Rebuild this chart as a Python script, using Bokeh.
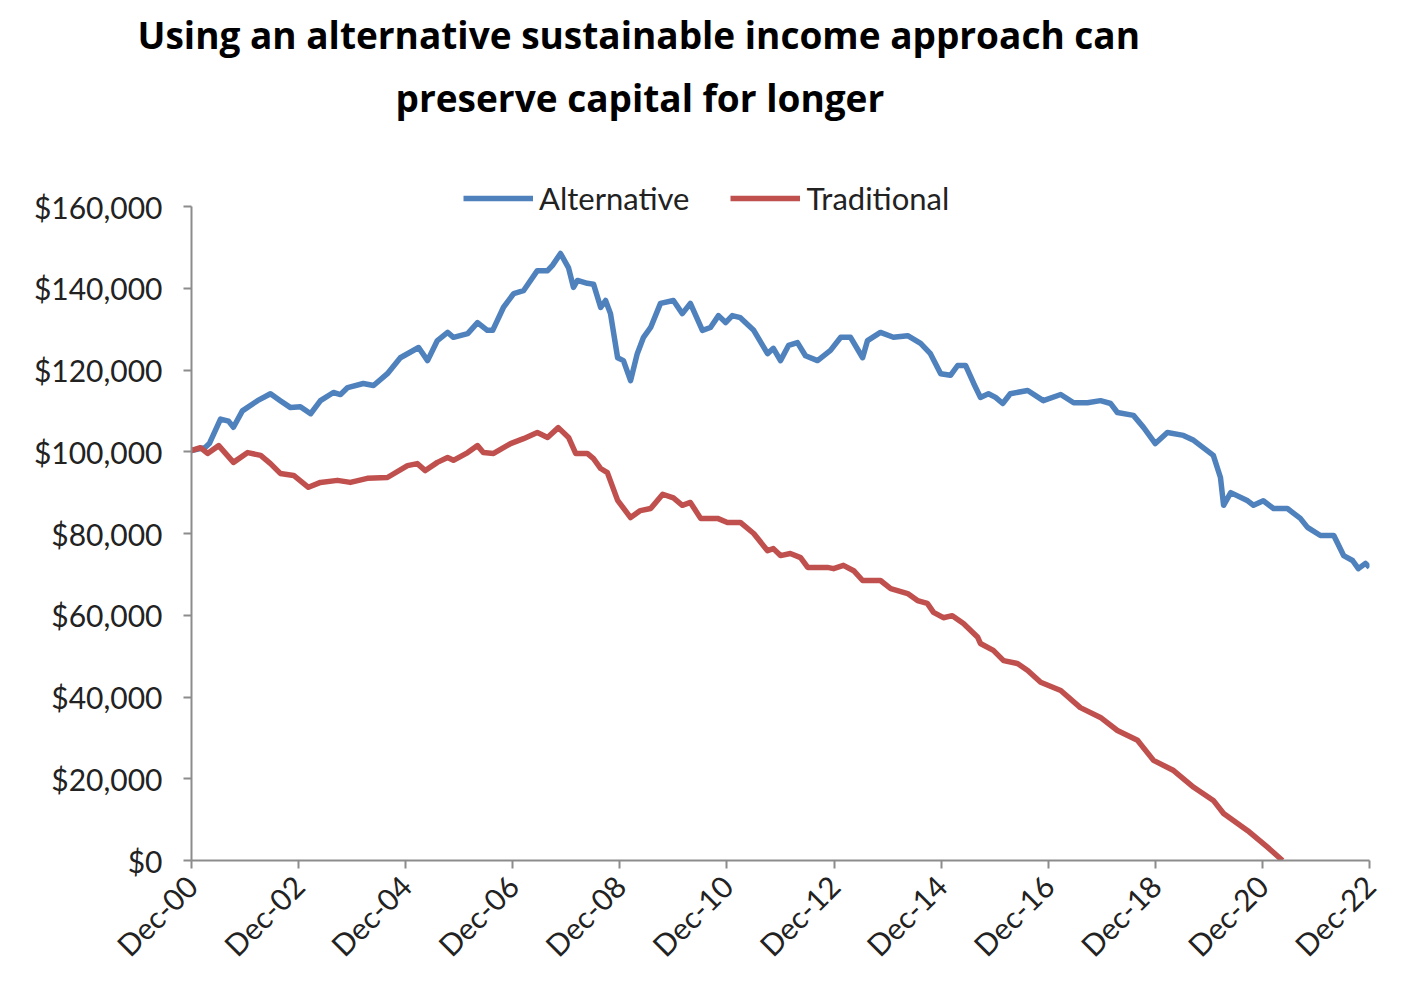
from bokeh.plotting import figure
from bokeh.models import (Range1d, FixedTicker, NumeralTickFormatter, ColumnDataSource,
                          Legend, LegendItem, Title)
from bokeh.embed import file_html
from bokeh.resources import INLINE
import math

title_line1 = "Using an alternative sustainable income approach can"
title_line2 = "preserve capital for longer"

# x: months since Dec-2000 ; values in $ thousands
alt_months = [0, 3, 4, 6.5, 8.3, 9.4, 11.4, 14.8, 17.7, 19.9, 22.2, 24.4, 26.7, 28.9, 31.8, 33.4, 35,
              38.5, 40.8, 43.9, 46.8, 50.9, 52.9, 55.1, 57.4, 58.7, 61.9, 64.1, 66.3, 67.5, 69.9, 72.2,
              74.4, 77.5, 79.8, 80.9, 82.7, 84.5, 85.6, 86.5, 88.7, 90.1, 91.7, 92.8, 93.9, 95.5, 96.8,
              98.4, 99.9, 101.3, 102.9, 105.1, 108, 110, 111.8, 114.5, 116.3, 118.1, 119.7, 121.2, 123,
              126, 129.1, 130.4, 132, 133.8, 135.8, 137.6, 140.3, 143.2, 145.5, 147.7, 150.4, 151.5,
              154.4, 157.3, 160.5, 163.4, 165.6, 167.9, 170.1, 171.7, 173.5, 175.3, 176.8, 178.6, 180.2,
              181.8, 183.5, 187.4, 190.9, 194.8, 197.7, 200.8, 203.7, 206, 207.5, 211.1, 213.4, 216,
              218.7, 222.3, 224.6, 229, 230.6, 231.3, 232.9, 236.7, 238, 240.2, 242.5, 245.6, 248.5,
              250.1, 253, 256, 258.2, 260.2, 261.5, 263.1, 264]
alt_values = [100.3, 101, 102, 108, 107.5, 106, 110, 112.5, 114.2, 112.5, 110.8, 111, 109.3, 112.5, 114.5,
              114, 115.7, 116.7, 116.2, 119.1, 123, 125.5, 122.3, 127.2, 129.2, 128, 128.9, 131.6, 129.7,
              129.7, 135.3, 138.7, 139.4, 144.3, 144.3, 145.6, 148.5, 145, 140.2, 141.9, 141.2, 141,
              135.3, 137, 133.8, 123, 122.3, 117.4, 124, 128, 130.4, 136.3, 137, 133.8, 136.3, 129.7,
              130.4, 133.3, 131.6, 133.3, 132.8, 129.7, 124, 125.3, 122.3, 126, 126.7, 123.5, 122.3,
              124.8, 128, 128, 123, 127.2, 129.2, 128, 128.4, 126.5, 124, 119.1, 118.7, 121.1, 121.1,
              116.7, 113.3, 114.2, 113.3, 111.8, 114.2, 115, 112.5, 114, 112, 112, 112.5, 111.8, 109.6,
              108.9, 105.9, 102, 104.7, 104, 102.8, 99.1, 93.7, 86.9, 90, 88, 86.9, 88, 86.1, 86.1,
              83.7, 81.5, 79.5, 79.5, 74.6, 73.4, 71.4, 72.7, 71.7]

trad_months = [0, 2, 3.6, 6.1, 9.4, 12.6, 15.5, 17.7, 19.9, 22.9, 26.2, 28.9, 32.7, 35.6, 39.4, 43.9,
               48.4, 50.6, 52.4, 55.1, 57.4, 58.7, 61.9, 64.1, 65.4, 67.7, 71.5, 74.4, 77.5, 79.8, 82.2,
               84.5, 86.1, 88.7, 90.1, 91.7, 93.2, 95.5, 98.4, 100.6, 102.9, 105.6, 108, 110, 111.8,
               114.1, 117.9, 120.1, 123, 126, 129.1, 130.4, 132, 134.2, 136.5, 138.1, 142.5, 143.9,
               146.1, 148.4, 150.4, 154.4, 156.7, 160.5, 162.7, 164.9, 166.3, 168.5, 170.5, 173, 176.2,
               176.8, 179.7, 182, 185.1, 187.4, 190.3, 194.8, 199.2, 203.7, 207.5, 212, 215.6, 220.1,
               224.6, 229, 231.3, 236.7, 241.2, 244.5]
trad_values = [100.3, 101, 99.6, 101.5, 97.4, 99.8, 99.1, 97.1, 94.7, 94.2, 91.3, 92.5, 93, 92.5, 93.5,
               93.7, 96.6, 97.1, 95.4, 97.4, 98.6, 97.9, 99.8, 101.5, 99.8, 99.6, 102, 103.2, 104.7,
               103.5, 105.9, 103.5, 99.6, 99.6, 98.3, 95.9, 94.9, 88.1, 83.9, 85.6, 86.1, 89.6, 88.7,
               86.9, 87.6, 83.7, 83.7, 82.7, 82.7, 80, 75.8, 76.3, 74.6, 75.1, 74.1, 71.7, 71.7, 71.4,
               72.2, 70.9, 68.5, 68.5, 66.5, 65.3, 63.6, 62.9, 60.7, 59.4, 59.9, 58, 54.6, 53.1, 51.4,
               48.9, 48.2, 46.5, 43.6, 41.6, 37.4, 35, 31.8, 29.4, 24.5, 22, 17.9, 14.7, 11.5, 7.3,
               3.2, 0]

tick_months = [0, 24, 48, 72, 96, 120, 144, 168, 192, 216, 240, 264]
tick_labels = ["Dec-00", "Dec-02", "Dec-04", "Dec-06", "Dec-08", "Dec-10",
               "Dec-12", "Dec-14", "Dec-16", "Dec-18", "Dec-20", "Dec-22"]
y_ticks = [0, 20000, 40000, 60000, 80000, 100000, 120000, 140000, 160000]

series_names = ["Alternative", "Traditional"]
series_colors = ["#4F81BD", "#C0504D"]

# frame: 160,000 drawn 654 px tall; extra headroom above so the legend fits in the frame
frame_top_border = 180
frame_h = 860 - frame_top_border
y_end = 160000 * frame_h / 654.0

p = figure(width=1400, height=990, output_backend="svg", toolbar_location=None,
           x_range=Range1d(0, 264), y_range=Range1d(0, y_end),
           min_border_left=191, min_border_right=31, min_border_top=frame_top_border,
           min_border_bottom=130)
p.outline_line_color = None
p.xgrid.grid_line_color = None
p.ygrid.grid_line_color = None
p.background_fill_color = "white"
p.border_fill_color = "white"

src_a = ColumnDataSource(dict(x=alt_months, y=[v * 1000 for v in alt_values]))
src_t = ColumnDataSource(dict(x=trad_months, y=[v * 1000 for v in trad_values]))
ra = p.line("x", "y", source=src_a, line_color=series_colors[0], line_width=5.5, line_join="round")
rt = p.line("x", "y", source=src_t, line_color=series_colors[1], line_width=5.5, line_join="round")

for ax in (p.xaxis[0], p.yaxis[0]):
    ax.axis_line_color = "#8C8C8C"
    ax.axis_line_width = 2
    ax.major_tick_line_color = "#8C8C8C"
    ax.major_tick_line_width = 2
    ax.major_tick_in = 0
    ax.major_tick_out = 8
    ax.minor_tick_line_color = None
    ax.major_label_text_font = "Lato"
    ax.major_label_text_font_size = "30px"
    ax.major_label_text_color = "#222222"

p.xaxis.ticker = FixedTicker(ticks=tick_months)
p.xaxis.major_label_overrides = {m: l for m, l in zip(tick_months, tick_labels)}
p.xaxis.major_label_orientation = math.pi / 4
p.xaxis.major_label_standoff = 12
p.yaxis.ticker = FixedTicker(ticks=y_ticks)
p.yaxis.bounds = (0, 160000)
p.yaxis.formatter = NumeralTickFormatter(format="$0,0")
p.yaxis.major_label_standoff = 21

legend = Legend(items=[LegendItem(label=series_names[0], renderers=[ra]),
                       LegendItem(label=series_names[1], renderers=[rt])],
                location=(272, 643), orientation="horizontal",
                glyph_width=70, glyph_height=20, label_standoff=6, spacing=41,
                padding=0, margin=0, border_line_color=None, background_fill_alpha=0,
                label_text_font="Lato", label_text_font_size="31px", label_text_color="#222222")
p.add_layout(legend, "center")

# spacer between the title block and the frame
p.add_layout(Title(text=" ", text_font_size="36px"), "above")
p.add_layout(Title(text=title_line2, align="left", offset=204, text_font="Open Sans",
                   text_font_style="bold", text_font_size="37px", text_color="black"), "above")
p.add_layout(Title(text=title_line1, align="left", offset=-54, text_font="Open Sans",
                   text_font_style="bold", text_font_size="37px", text_color="black"), "above")

open("out.html", "w").write(file_html(p, INLINE))
